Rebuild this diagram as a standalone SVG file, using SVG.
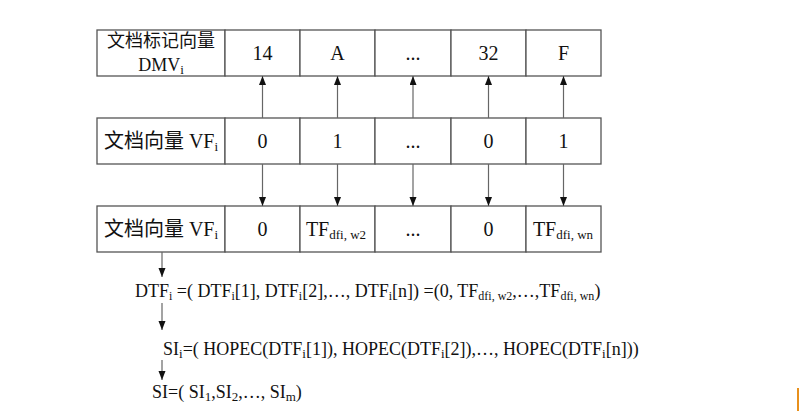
<svg xmlns="http://www.w3.org/2000/svg" width="809" height="411" viewBox="0 0 809 411">
<defs>
<style>
.cell{fill:#fff;stroke:#555;stroke-width:1.3}
.t{font-family:"Liberation Serif","Noto Sans CJK SC",serif;font-size:20px;fill:#111;text-anchor:middle}
.lb{font-size:18px}
.f{font-family:"Liberation Serif","Noto Sans CJK SC",serif;font-size:18px;fill:#111}
.s{font-size:13px}
.s2{font-size:12px}
.conn line{stroke:#666;stroke-width:1.2;marker-end:url(#ah)}
</style>
<marker id="ah" markerUnits="userSpaceOnUse" markerWidth="10" markerHeight="8" refX="9" refY="3.5" orient="auto">
<path d="M0,0 L9,3.5 L0,7 z" fill="#111"/>
</marker>
</defs>
<rect width="809" height="411" fill="#fff"/>

<g id="row-dmv">
<g id="dmv-label"><rect class="cell" x="97" y="30" width="128" height="46"/>
<text class="t lb" x="161" y="47">文档标记向量</text>
<text class="t lb" x="161" y="71">DMV<tspan class="s" dy="3">i</tspan></text></g>
<g id="dmv-1"><rect class="cell" x="225" y="30" width="75" height="46"/><text class="t" x="262.5" y="60">14</text></g>
<g id="dmv-2"><rect class="cell" x="300" y="30" width="75" height="46"/><text class="t" x="337.5" y="60">A</text></g>
<g id="dmv-3"><rect class="cell" x="375" y="30" width="76" height="46"/><text class="t" x="413" y="60">...</text></g>
<g id="dmv-4"><rect class="cell" x="451" y="30" width="75" height="46"/><text class="t" x="488.5" y="60">32</text></g>
<g id="dmv-5"><rect class="cell" x="526" y="30" width="75" height="46"/><text class="t" x="563.5" y="60">F</text></g>
</g>

<g id="row-vf">
<g id="vf-label"><rect class="cell" x="97" y="118" width="128" height="46"/>
<text class="t" x="161" y="148">文档向量 VF<tspan class="s" dy="3">i</tspan></text></g>
<g id="vf-1"><rect class="cell" x="225" y="118" width="75" height="46"/><text class="t" x="262.5" y="148">0</text></g>
<g id="vf-2"><rect class="cell" x="300" y="118" width="75" height="46"/><text class="t" x="337.5" y="148">1</text></g>
<g id="vf-3"><rect class="cell" x="375" y="118" width="76" height="46"/><text class="t" x="413" y="148">...</text></g>
<g id="vf-4"><rect class="cell" x="451" y="118" width="75" height="46"/><text class="t" x="488.5" y="148">0</text></g>
<g id="vf-5"><rect class="cell" x="526" y="118" width="75" height="46"/><text class="t" x="563.5" y="148">1</text></g>
</g>

<g id="row-tf">
<g id="tf-label"><rect class="cell" x="97" y="206" width="128" height="46"/>
<text class="t" x="161" y="236">文档向量 VF<tspan class="s" dy="3">i</tspan></text></g>
<g id="tf-1"><rect class="cell" x="225" y="206" width="75" height="46"/><text class="t" x="262.5" y="236">0</text></g>
<g id="tf-2"><rect class="cell" x="300" y="206" width="75" height="46"/><text class="t" x="336" y="236">TF<tspan class="s" dy="3">dfi, w2</tspan></text></g>
<g id="tf-3"><rect class="cell" x="375" y="206" width="76" height="46"/><text class="t" x="413" y="236">...</text></g>
<g id="tf-4"><rect class="cell" x="451" y="206" width="75" height="46"/><text class="t" x="488.5" y="236">0</text></g>
<g id="tf-5"><rect class="cell" x="526" y="206" width="75" height="46"/><text class="t" x="563" y="236">TF<tspan class="s" dy="3">dfi, wn</tspan></text></g>
</g>

<g id="formula-dtf"><text class="f" x="135" y="297">DTF<tspan class="s2" dy="3">i</tspan><tspan dy="-3"> =( DTF</tspan><tspan class="s2" dy="3">i</tspan><tspan dy="-3">[1], DTF</tspan><tspan class="s2" dy="3">i</tspan><tspan dy="-3">[2],…, DTF</tspan><tspan class="s2" dy="3">i</tspan><tspan dy="-3">[n]) =(0, TF</tspan><tspan class="s2" dy="3">dfi, w2</tspan><tspan dy="-3">,…,TF</tspan><tspan class="s2" dy="3">dfi, wn</tspan><tspan dy="-3">)</tspan></text></g>

<g id="formula-si-i"><text class="f" x="163" y="355">SI<tspan class="s" dy="3">i</tspan><tspan dy="-3">=( HOPEC(DTF</tspan><tspan class="s" dy="3">i</tspan><tspan dy="-3">[1]), HOPEC(DTF</tspan><tspan class="s" dy="3">i</tspan><tspan dy="-3">[2]),…, HOPEC(DTF</tspan><tspan class="s" dy="3">i</tspan><tspan dy="-3">[n]))</tspan></text></g>

<g id="formula-si"><text class="f" x="152" y="398">SI=( SI<tspan class="s" dy="3">1</tspan><tspan dy="-3">,SI</tspan><tspan class="s" dy="3">2</tspan><tspan dy="-3">,…, SI</tspan><tspan class="s" dy="3">m</tspan><tspan dy="-3">)</tspan></text></g>

<g id="connectors" class="conn">
<line x1="262.5" y1="118" x2="262.5" y2="76"/>
<line x1="337.5" y1="118" x2="337.5" y2="76"/>
<line x1="413" y1="118" x2="413" y2="76"/>
<line x1="488.5" y1="118" x2="488.5" y2="76"/>
<line x1="563.5" y1="118" x2="563.5" y2="76"/>
<line x1="262.5" y1="164" x2="262.5" y2="206"/>
<line x1="337.5" y1="164" x2="337.5" y2="206"/>
<line x1="413" y1="164" x2="413" y2="206"/>
<line x1="488.5" y1="164" x2="488.5" y2="206"/>
<line x1="563.5" y1="164" x2="563.5" y2="206"/>
<line x1="162" y1="252" x2="162" y2="277"/>
<line x1="162" y1="303" x2="162" y2="330"/>
<line x1="162" y1="360" x2="162" y2="380"/>
</g>

<line x1="798" y1="388" x2="798" y2="411" stroke="#e8901c" stroke-width="2"/>
</svg>
